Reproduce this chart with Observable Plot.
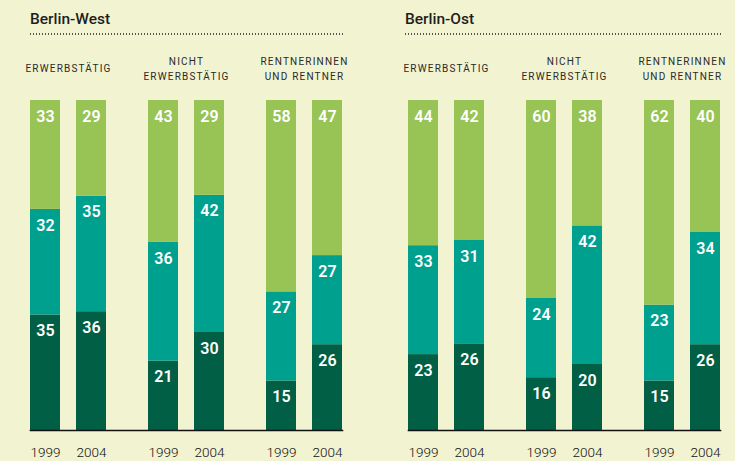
<!DOCTYPE html>
<html><head><meta charset="utf-8">
<script src="https://cdn.jsdelivr.net/npm/d3@7"></script>
<script src="https://cdn.jsdelivr.net/npm/@observablehq/plot@0.6"></script>
<style>
html,body{margin:0;padding:0;}
body{background:#f2f3d0;width:735px;height:461px;overflow:hidden;font-family:Roboto,sans-serif;position:relative;}
.panel{position:absolute;top:0;height:461px;}
.title{position:absolute;top:10px;font-size:15.5px;font-weight:500;color:#1e1e1e;}
.dots{position:absolute;top:33px;height:2px;background:repeating-linear-gradient(to right,#555 0 1.4px,transparent 1.4px 3px);}
.chart{position:absolute;top:40px;left:0;}
</style></head><body>
<div id="west" class="panel" style="left:0;width:370px">
  <div class="title" style="left:30px">Berlin-West</div>
  <div class="dots" style="left:30px;width:313px"></div>
  <div class="chart"></div>
</div>
<div id="ost" class="panel" style="left:370px;width:365px">
  <div class="title" style="left:35px">Berlin-Ost</div>
  <div class="dots" style="left:35px;width:317px"></div>
  <div class="chart"></div>
</div>
<script>
const groups = ["ERWERBSTÄTIG", "NICHT\nERWERBSTÄTIG", "RENTNERINNEN\nUND RENTNER"];
const years = ["1999", "2004"];
const segments = ["unten", "mitte", "oben"];
const colors = ["#005f44", "#00a08f", "#98c355"];

// order: group x year  (Erw 1999, Erw 2004, Nicht 1999, Nicht 2004, Rentner 1999, Rentner 2004)
const westBottom = [35, 36, 21, 30, 15, 26];
const westMiddle = [32, 35, 36, 42, 27, 27];
const westTop    = [33, 29, 43, 29, 58, 47];
const ostBottom  = [23, 26, 16, 20, 15, 26];
const ostMiddle  = [33, 31, 24, 42, 23, 34];
const ostTop     = [44, 42, 60, 38, 62, 40];

function buildRows(series) {
  const rows = [];
  groups.forEach((g, gi) => {
    years.forEach((y, yi) => {
      const i = gi * 2 + yi;
      series.forEach((s, si) => rows.push({group: g, year: y, seg: segments[si], value: s[i]}));
    });
  });
  return rows;
}

function chart(rows, width, marginLeft, marginRight) {
  const svg = Plot.plot({
    width, height: 421,
    marginTop: 60, marginBottom: 31, marginLeft, marginRight,
    style: {background: "transparent", fontFamily: "Roboto, sans-serif", color: "#333"},
    fx: {domain: groups, paddingInner: 42 / 118, paddingOuter: 0, axis: null, label: null},
    x: {domain: years, paddingInner: 16 / 46, paddingOuter: 0, label: null},
    y: {axis: null, domain: [0, 1]},
    color: {domain: segments, range: colors},
    marks: [
      Plot.barY(rows, Plot.stackY({offset: "normalize"}, {fx: "group", x: "year", y: "value", fill: "seg", inset: 0})),
      Plot.text(rows, Plot.stackY2({offset: "normalize"}, {fx: "group", x: "year", y: "value", text: d => String(d.value), dy: 16, fill: "white", fontSize: 16, fontWeight: 600})),
      Plot.text(groups, {fx: d => d, text: d => d, frameAnchor: "top", dy: -33, lineAnchor: "middle", lineHeight: 1.55, fontSize: 10, fill: "#2a2a2a"}),
      Plot.axisX({tickSize: 0, tickPadding: 17, fontSize: 13.5, fill: "#111", fontWeight: 300, label: null}),
      Plot.frame({anchor: "bottom", facet: "super", stroke: "#111", strokeWidth: 1.6})
    ]
  });
  svg.querySelectorAll("text").forEach(t => {
    if (/[A-Z]/.test(t.textContent)) t.style.letterSpacing = "1.2px";
  });
  return svg;
}

document.querySelector("#west .chart").append(chart(buildRows([westBottom, westMiddle, westTop]), 370, 30, 28));
document.querySelector("#ost .chart").append(chart(buildRows([ostBottom, ostMiddle, ostTop]), 365, 38, 15));
</script>
</body></html>
